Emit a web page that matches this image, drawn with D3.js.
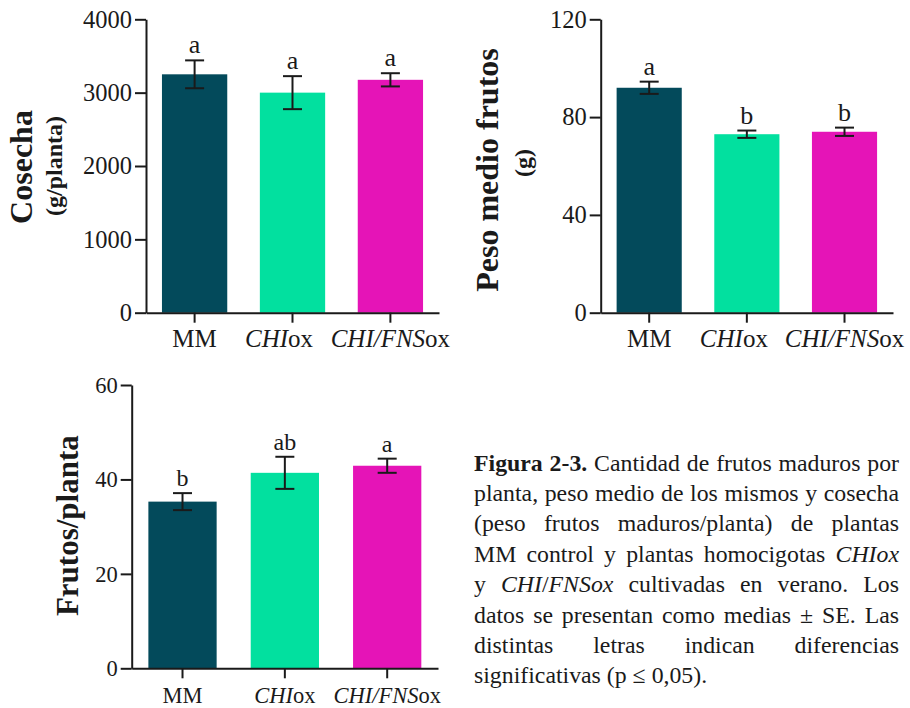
<!DOCTYPE html>
<html>
<head>
<meta charset="utf-8">
<script src="https://cdn.jsdelivr.net/npm/d3@7"></script>
<style>
  body { margin: 0; background: #fff; }
  svg { display: block; }
  text { font-family: "Liberation Serif", "Times New Roman", serif; fill: #1a1a1a; }
</style>
</head>
<body>
<svg id="fig" width="910" height="708"></svg>
<script>
// Genotypes and their bar colours
const categories = ["MM", "CHIox", "CHI/FNSox"];
const barColors = ["#034a5b", "#02e09f", "#e514b7"];
// Italic / roman pieces of each genotype label
const categoryParts = [
  [["MM", false]],
  [["CHI", true], ["ox", false]],
  [["CHI/FNS", true], ["ox", false]]
];

// Harvest per plant (g/planta), mean ± SE
const cosechaMean = [3250, 3000, 3175];
const cosechaSE = [190, 225, 90];
const cosechaLetters = ["a", "a", "a"];
const cosechaTicks = [0, 1000, 2000, 3000, 4000];

// Mean fruit weight (g), mean ± SE
const pesoMean = [92, 73, 74];
const pesoSE = [2.5, 1.5, 1.7];
const pesoLetters = ["a", "b", "b"];
const pesoTicks = [0, 40, 80, 120];

// Ripe fruits per plant, mean ± SE
const frutosMean = [35.3, 41.4, 42.9];
const frutosSE = [1.8, 3.4, 1.5];
const frutosLetters = ["b", "ab", "a"];
const frutosTicks = [0, 20, 40, 60];

const ink = "#1a1a1a";
const svg = d3.select("#fig");

function panel(o) {
  const g = svg.append("g");
  const x = d3.scaleBand().domain(categories).range([o.x0, o.x1])
    .paddingInner(0.333).paddingOuter(0.163);
  const y = d3.scaleLinear().domain([0, o.max]).range([o.yBottom, o.yTop]);

  // bars
  g.selectAll("rect.bar").data(o.mean).join("rect")
    .attr("class", "bar")
    .attr("x", (d, i) => x(categories[i]))
    .attr("width", x.bandwidth())
    .attr("y", d => y(d))
    .attr("height", d => y(0) - y(d))
    .attr("fill", (d, i) => barColors[i]);

  // error bars
  const cap = 9.5;
  const eb = g.selectAll("g.err").data(o.mean).join("g").attr("class", "err")
    .attr("stroke", ink).attr("stroke-width", 2).attr("fill", "none");
  eb.append("line")
    .attr("x1", (d, i) => x(categories[i]) + x.bandwidth() / 2)
    .attr("x2", (d, i) => x(categories[i]) + x.bandwidth() / 2)
    .attr("y1", (d, i) => y(d - o.se[i]))
    .attr("y2", (d, i) => y(d + o.se[i]));
  [1, -1].forEach(s => {
    eb.append("line")
      .attr("x1", (d, i) => x(categories[i]) + x.bandwidth() / 2 - cap)
      .attr("x2", (d, i) => x(categories[i]) + x.bandwidth() / 2 + cap)
      .attr("y1", (d, i) => y(d + s * o.se[i]))
      .attr("y2", (d, i) => y(d + s * o.se[i]));
  });

  // significance letters
  g.selectAll("text.sig").data(o.mean).join("text")
    .attr("class", "sig")
    .attr("x", (d, i) => x(categories[i]) + x.bandwidth() / 2)
    .attr("y", (d, i) => y(d + o.se[i]) - 7)
    .attr("text-anchor", "middle")
    .attr("font-size", o.letterSize)
    .text((d, i) => o.letters[i]);

  // y axis
  const ya = g.append("g").attr("transform", `translate(${o.x0},0)`)
    .call(d3.axisLeft(y).tickValues(o.ticks).tickSize(11).tickSizeOuter(0)
      .tickPadding(3).tickFormat(d3.format("d")));
  ya.selectAll("text").attr("font-size", o.tickSize).attr("fill", ink)
    .style("font-family", '"Liberation Serif", serif');

  // x axis
  const xa = g.append("g").attr("transform", `translate(0,${o.yBottom})`)
    .call(d3.axisBottom(x).tickSize(10).tickSizeOuter(0).tickPadding(o.catPad));
  xa.selectAll(".tick text").each(function (d) {
    const k = categories.indexOf(d);
    const t = d3.select(this).text(null)
      .attr("font-size", o.catSize).attr("fill", ink)
      .attr("dx", o.catShift[k])
      .style("font-family", '"Liberation Serif", serif');
    categoryParts[k].forEach(([s, it]) => {
      t.append("tspan").attr("font-style", it ? "italic" : "normal").text(s);
    });
  });

  [ya, xa].forEach(a => {
    a.selectAll("path.domain, .tick line").attr("stroke", ink).attr("stroke-width", 2);
  });

  // axis titles
  const cy = (o.yTop + o.yBottom) / 2;
  g.append("text")
    .attr("transform", `translate(${o.titleX},${cy + o.titleDy}) rotate(-90)`)
    .attr("text-anchor", "middle").attr("font-weight", "bold")
    .attr("font-size", o.titleSize).text(o.title);
  if (o.subtitle) {
    g.append("text")
      .attr("transform", `translate(${o.subX},${cy + o.subDy}) rotate(-90)`)
      .attr("text-anchor", "middle").attr("font-weight", "bold")
      .attr("font-size", o.subSize).text(o.subtitle);
  }
}

panel({
  x0: 146, x1: 439, yTop: 19.3, yBottom: 312.7, max: 4000,
  mean: cosechaMean, se: cosechaSE, letters: cosechaLetters, ticks: cosechaTicks,
  tickSize: 24.5, catSize: 25, catPad: 7, catShift: [0, -13.5, 0], letterSize: 26,
  title: "Cosecha", titleX: 32, titleDy: 1, titleSize: 32,
  subtitle: "(g/planta)", subX: 62, subDy: 0, subSize: 24
});

panel({
  x0: 600.7, x1: 893, yTop: 19.3, yBottom: 312.7, max: 120,
  mean: pesoMean, se: pesoSE, letters: pesoLetters, ticks: pesoTicks,
  tickSize: 24.5, catSize: 25, catPad: 7, catShift: [0, -13, 0], letterSize: 26,
  title: "Peso medio frutos", titleX: 498, titleDy: 4, titleSize: 32,
  subtitle: "(g)", subX: 531, subDy: -3, subSize: 24
});

panel({
  x0: 131.7, x1: 438, yTop: 385, yBottom: 668.3, max: 60,
  mean: frutosMean, se: frutosSE, letters: frutosLetters, ticks: frutosTicks,
  tickSize: 22.5, catSize: 22.5, catPad: 9, catShift: [0, 0, 0], letterSize: 24,
  title: "Frutos/planta", titleX: 78, titleDy: -1, titleSize: 31
});

// Figure caption, justified between left and right margins
const capLeft = 474, capRight = 899, capTop = 470.5, capLead = 30.4, capSize = 23.8;
// each word is a list of [text, style] pieces; style: b = bold, i = italic, r = roman
const captionLines = [
  [[["Figura", "b"]], [["2-3.", "b"]], [["Cantidad", "r"]], [["de", "r"]], [["frutos", "r"]], [["maduros", "r"]], [["por", "r"]]],
  "planta, peso medio de los mismos y cosecha",
  "(peso frutos maduros/planta) de plantas",
  [[["MM", "r"]], [["control", "r"]], [["y", "r"]], [["plantas", "r"]], [["homocigotas", "r"]], [["CHIox", "i"]]],
  [[["y", "r"]], [["CHI", "i"], ["/", "r"], ["FNSox", "i"]], [["cultivadas", "r"]], [["en", "r"]], [["verano.", "r"]], [["Los", "r"]]],
  "datos se presentan como medias ± SE. Las",
  "distintas letras indican diferencias",
  "significativas (p ≤ 0,05)."
];

const capG = svg.append("g").attr("font-size", capSize);
captionLines.forEach((line, li) => {
  const words = typeof line === "string" ? line.split(" ").map(w => [[w, "r"]]) : line;
  const yPos = capTop + li * capLead;
  const nodes = words.map(parts => {
    const t = capG.append("text").attr("y", yPos);
    parts.forEach(([s, st]) => {
      t.append("tspan")
        .attr("font-weight", st === "b" ? "bold" : "normal")
        .attr("font-style", st === "i" ? "italic" : "normal")
        .text(s);
    });
    return t;
  });
  const widths = nodes.map(n => n.node().getComputedTextLength());
  const total = d3.sum(widths);
  const last = li === captionLines.length - 1;
  const gap = last ? capSize * 0.25 : Math.max(capSize * 0.15, (capRight - capLeft - total) / (nodes.length - 1));
  let xPos = capLeft;
  nodes.forEach((n, i) => { n.attr("x", xPos); xPos += widths[i] + gap; });
});
</script>
</body>
</html>
